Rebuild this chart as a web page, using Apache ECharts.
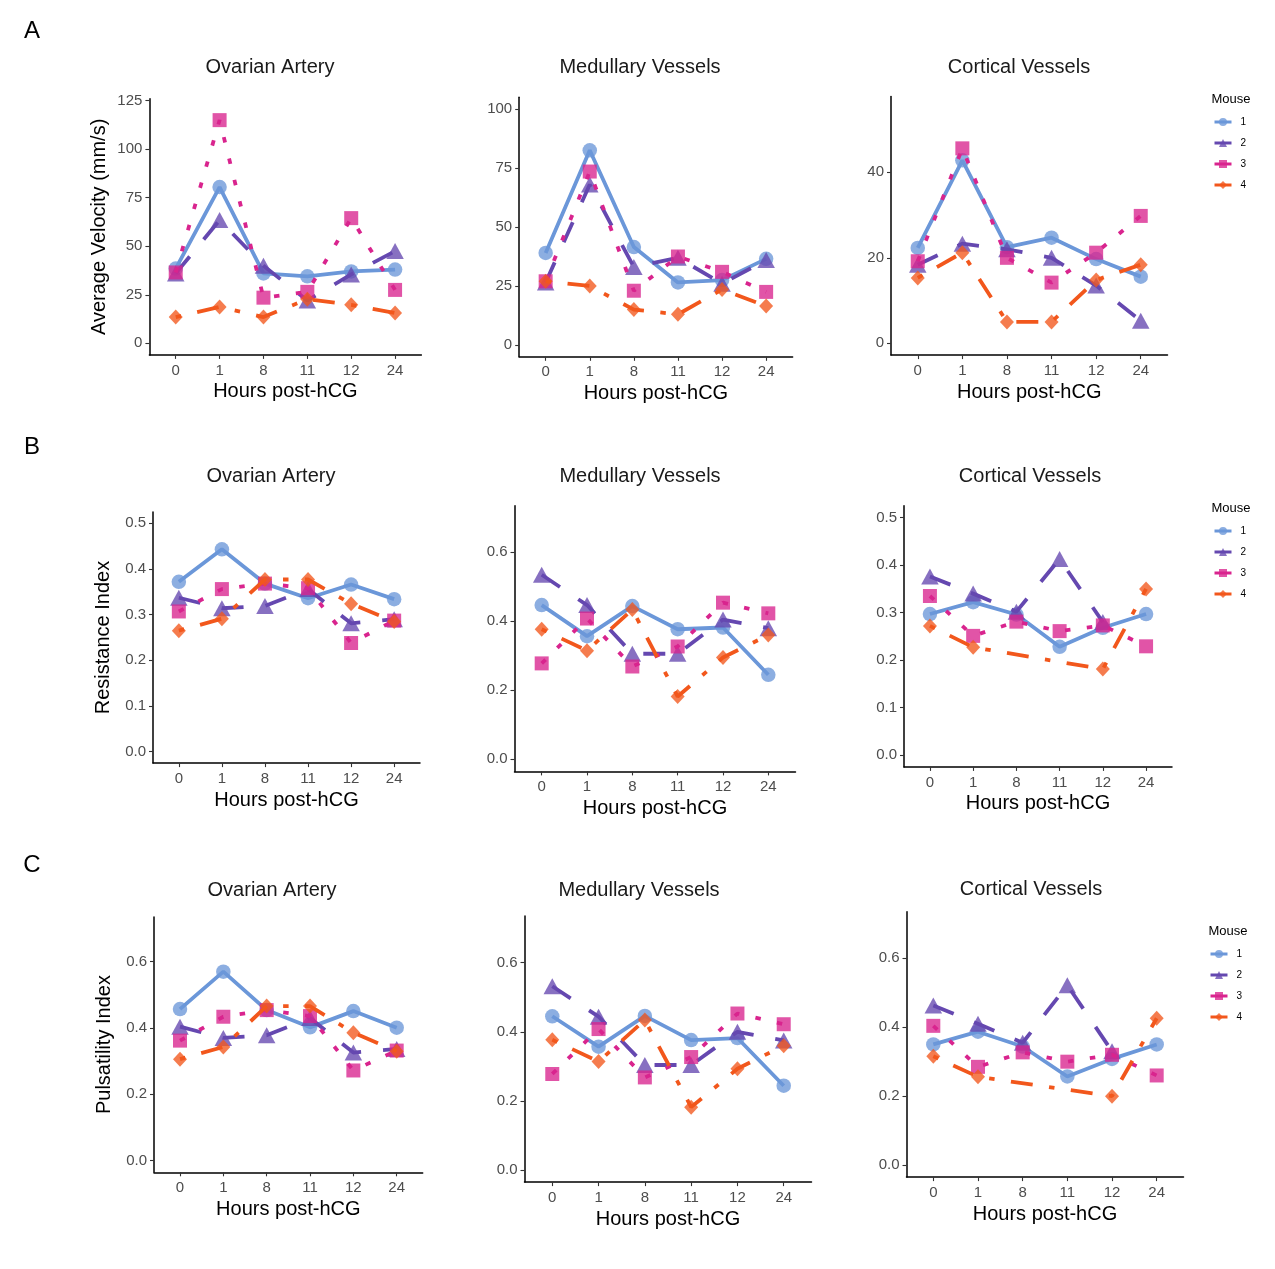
<!DOCTYPE html>
<html><head><meta charset="utf-8">
<script src="https://cdn.jsdelivr.net/npm/echarts@6/dist/echarts.min.js"></script>
<style>html,body{margin:0;padding:0;background:#fff}#c{width:1275px;height:1269px}</style>
</head><body><div id="c"></div>
<script>
// ---------- data ----------
const hours = ['0', '1', '8', '11', '12', '24'];
const mice = ['1', '2', '3', '4'];

// A: Average Velocity (mm/s)
const velOvarian1 = [38.5, 80.5, 36, 34.5, 37, 38];
const velOvarian2 = [36, 63.5, 40, 22, 35.5, 47.5];
const velOvarian3 = [36.5, 115, 23.5, 26.5, 64.5, 27.5];
const velOvarian4 = [13.5, 18.7, 13.5, 22.7, 19.8, 15.6];

const velMedullary1 = [39, 82.5, 41.5, 26.5, 27.5, 36.5];
const velMedullary2 = [26.5, 68, 33, 37, 26, 36];
const velMedullary3 = [27, 73.5, 23, 37.5, 31, 22.5];
const velMedullary4 = [27, 25, 15, 13, 23.5, 16.5];

const velCortical1 = [22.3, 42.8, 22.5, 24.7, 19.7, 15.6];
const velCortical2 = [18.4, 23.3, 22, 20, 13.5, 5.3];
const velCortical3 = [19.2, 45.6, 20, 14.2, 21.2, 29.8];
const velCortical4 = [15.3, 21.2, 5, 5, 14.8, 18.4];

// B: Resistance Index
const riOvarian1 = [0.372, 0.443, 0.368, 0.336, 0.366, 0.334];
const riOvarian2 = [0.337, 0.314, 0.319, 0.356, 0.281, 0.290];
const riOvarian3 = [0.307, 0.356, 0.368, 0.358, 0.238, 0.287];
const riOvarian4 = [0.265, 0.291, 0.377, 0.377, 0.324, 0.285];

const riMedullary1 = [0.447, 0.357, 0.444, 0.377, 0.382, 0.245];
const riMedullary2 = [0.535, 0.447, 0.306, 0.306, 0.405, 0.380];
const riMedullary3 = [0.278, 0.408, 0.269, 0.327, 0.454, 0.423];
const riMedullary4 = [0.377, 0.315, 0.434, 0.182, 0.295, 0.360];

const riCortical1 = [0.297, 0.322, 0.296, 0.228, 0.268, 0.297];
const riCortical2 = [0.376, 0.340, 0.302, 0.413, 0.280, null];
const riCortical3 = [0.335, 0.251, 0.281, 0.261, 0.273, 0.229];
const riCortical4 = [0.272, 0.227, null, null, 0.181, 0.350];

// C: Pulsatility Index
const piOvarian1 = [0.457, 0.570, 0.454, 0.402, 0.451, 0.401];
const piOvarian2 = [0.404, 0.370, 0.378, 0.430, 0.326, 0.337];
const piOvarian3 = [0.362, 0.434, 0.454, 0.436, 0.272, 0.332];
const piOvarian4 = [0.306, 0.343, 0.466, 0.466, 0.386, 0.330];

const piMedullary1 = [0.445, 0.357, 0.446, 0.376, 0.382, 0.244];
const piMedullary2 = [0.532, 0.444, 0.304, 0.304, 0.400, 0.375];
const piMedullary3 = [0.278, 0.408, 0.268, 0.327, 0.453, 0.422];
const piMedullary4 = [0.377, 0.314, 0.434, 0.182, 0.293, 0.360];

const piCortical1 = [0.350, 0.387, 0.344, 0.257, 0.308, 0.350];
const piCortical2 = [0.463, 0.410, 0.355, 0.522, 0.330, null];
const piCortical3 = [0.404, 0.285, 0.327, 0.300, 0.320, 0.260];
const piCortical4 = [0.316, 0.256, null, null, 0.200, 0.426];

// tick labels
const velOvarianTicks = [0, 25, 50, 75, 100, 125];
const velMedullaryTicks = [0, 25, 50, 75, 100];
const velCorticalTicks = [0, 20, 40];
const ri5Ticks = [0, 0.1, 0.2, 0.3, 0.4, 0.5];
const ri6Ticks = [0, 0.2, 0.4, 0.6];

const panelTitles = ['Ovarian Artery', 'Medullary Vessels', 'Cortical Vessels'];
const rowLetters = ['A', 'B', 'C'];
const yTitles = ['Average Velocity (mm/s)', 'Resistance Index', 'Pulsatility Index'];
const xTitle = 'Hours post-hCG';

// ---------- layout / style ----------
const FONT = 'Liberation Sans, Arial, Helvetica, sans-serif';
const colors = ['#6B97D9', '#6548B0', '#D9248E', '#F2571C'];
const symbols = ['circle', 'triangle', 'rect', 'diamond'];
const symbolSizes = [14.5, [17.5, 16], 14, [14, 15]];
const dashes = ['solid', [22, 22], [5.5, 16.5], [5.5, 16.5, 22, 16.5]];
const lineWidths = [3.8, 3.8, 3.8, 3.8];

const panels = [
  { s: [velOvarian1, velOvarian2, velOvarian3, velOvarian4], ticks: velOvarianTicks, min: -6, max: 126, dec: 0,
    g: { left: 149.4, top: 98.8, width: 272, height: 256.1 }, row: 0, col: 0 },
  { s: [velMedullary1, velMedullary2, velMedullary3, velMedullary4], ticks: velMedullaryTicks, min: -5, max: 105, dec: 0,
    g: { left: 519.2, top: 97.2, width: 273.4, height: 259.6 }, row: 0, col: 1 },
  { s: [velCortical1, velCortical2, velCortical3, velCortical4], ticks: velCorticalTicks, min: -2.75, max: 57.75, dec: 0,
    g: { left: 891, top: 96.4, width: 276.5, height: 258.7 }, row: 0, col: 2 },
  { s: [riOvarian1, riOvarian2, riOvarian3, riOvarian4], ticks: ri5Ticks, min: -0.025, max: 0.525, dec: 1,
    g: { left: 153, top: 511.9, width: 267, height: 251.2 }, row: 1, col: 0 },
  { s: [riMedullary1, riMedullary2, riMedullary3, riMedullary4], ticks: ri6Ticks, min: -0.035, max: 0.735, dec: 1,
    g: { left: 514.5, top: 505.7, width: 281, height: 265.7 }, row: 1, col: 1 },
  { s: [riCortical1, riCortical2, riCortical3, riCortical4], ticks: ri5Ticks, min: -0.025, max: 0.525, dec: 1,
    g: { left: 904, top: 505.8, width: 268, height: 261.1 }, row: 1, col: 2 },
  { s: [piOvarian1, piOvarian2, piOvarian3, piOvarian4], ticks: ri6Ticks, min: -0.035, max: 0.735, dec: 1,
    g: { left: 154, top: 916.9, width: 268.7, height: 255.4 }, row: 2, col: 0 },
  { s: [piMedullary1, piMedullary2, piMedullary3, piMedullary4], ticks: ri6Ticks, min: -0.035, max: 0.735, dec: 1,
    g: { left: 524.5, top: 916.1, width: 287, height: 266 }, row: 2, col: 1 },
  { s: [piCortical1, piCortical2, piCortical3, piCortical4], ticks: ri6Ticks, min: -0.035, max: 0.735, dec: 1,
    g: { left: 906.5, top: 911.8, width: 277, height: 265.3 }, row: 2, col: 2 }
];

const titlePos = [
  [[270, 67.5], [640, 67.5], [1019, 67]],
  [[271, 476], [640, 476], [1030, 476]],
  [[272, 890], [639, 890], [1031, 889]]
];
const letterPos = [[32, 31], [32, 447], [32, 865]];
const legendPos = [{ left: 1208, top: 112, tx: 1231, ty: 99 }, { left: 1208, top: 521, tx: 1231, ty: 508 }, { left: 1204, top: 944, tx: 1228, ty: 931 }];

const xIdx = hours.map((_, i) => i);
const grids = [], xAxes = [], yAxes = [], series = [], graphics = [];

panels.forEach((p, pi) => {
  grids.push(Object.assign({ containLabel: false }, p.g));
  xAxes.push({
    type: 'value', gridIndex: pi, min: -0.6, max: 5.6,
    axisLine: { show: true, onZero: false, lineStyle: { color: '#000', width: 1.5 } },
    axisTick: { show: true, length: 4, customValues: xIdx, lineStyle: { color: '#333', width: 1.1 } },
    axisLabel: { customValues: xIdx, formatter: v => hours[Math.round(v)], color: '#4D4D4D', fontSize: 15, margin: 8, fontFamily: FONT },
    splitLine: { show: false },
    name: xTitle, nameLocation: 'middle', nameGap: 27,
    nameTextStyle: { fontSize: 20, color: '#000', fontFamily: FONT }
  });
  yAxes.push({
    type: 'value', gridIndex: pi, min: p.min, max: p.max,
    axisLine: { show: true, onZero: false, lineStyle: { color: '#000', width: 1.5 } },
    axisTick: { show: true, length: 4, customValues: p.ticks, lineStyle: { color: '#333', width: 1.1 } },
    axisLabel: { customValues: p.ticks, formatter: v => Number(v).toFixed(p.dec), color: '#4D4D4D', fontSize: 15, margin: 7, fontFamily: FONT },
    splitLine: { show: false },
    name: p.col === 0 ? yTitles[p.row] : '', nameLocation: 'middle', nameGap: 40,
    nameTextStyle: { fontSize: 20, color: '#000', fontFamily: FONT }
  });
  p.s.forEach((vals, k) => {
    series.push({
      type: 'line', name: mice[k], xAxisIndex: pi, yAxisIndex: pi,
      data: vals.map((v, i) => [i, v == null ? '-' : v]),
      connectNulls: true,
      symbol: symbols[k], symbolSize: symbolSizes[k], showSymbol: true,
      itemStyle: { color: colors[k], opacity: 0.78 },
      lineStyle: { color: colors[k], width: lineWidths[k], type: dashes[k], cap: 'butt' },
      emphasis: { disabled: true },
      z: 2 + k
    });
  });
});

titlePos.forEach((row, r) => row.forEach((pos, c) => {
  graphics.push({ type: 'text', x: pos[0], y: pos[1],
    style: { text: panelTitles[c], fontSize: 20, fontFamily: FONT, fill: '#1a1a1a', align: 'center', verticalAlign: 'middle' } });
}));
letterPos.forEach((pos, r) => {
  graphics.push({ type: 'text', x: pos[0], y: pos[1],
    style: { text: rowLetters[r], fontSize: 24, fontFamily: FONT, fill: '#000', align: 'center', verticalAlign: 'middle' } });
});
const legends = legendPos.map(lp => {
  graphics.push({ type: 'text', x: lp.tx, y: lp.ty,
    style: { text: 'Mouse', fontSize: 13, fontFamily: FONT, fill: '#000', align: 'center', verticalAlign: 'middle' } });
  return {
    data: mice, orient: 'vertical', left: lp.left, top: lp.top, padding: 5,
    itemWidth: 17, itemHeight: 10, itemGap: 11, selectedMode: false,
    lineStyle: { width: 3, type: 'solid' },
    textStyle: { fontSize: 10, color: '#000', fontFamily: FONT, padding: [0, 0, 0, 4] }
  };
});

const chart = echarts.init(document.getElementById('c'), null, { renderer: 'canvas' });
chart.setOption({
  backgroundColor: '#fff',
  animation: false,
  grid: grids, xAxis: xAxes, yAxis: yAxes, series: series,
  legend: legends,
  graphic: graphics
});
</script></body></html>
